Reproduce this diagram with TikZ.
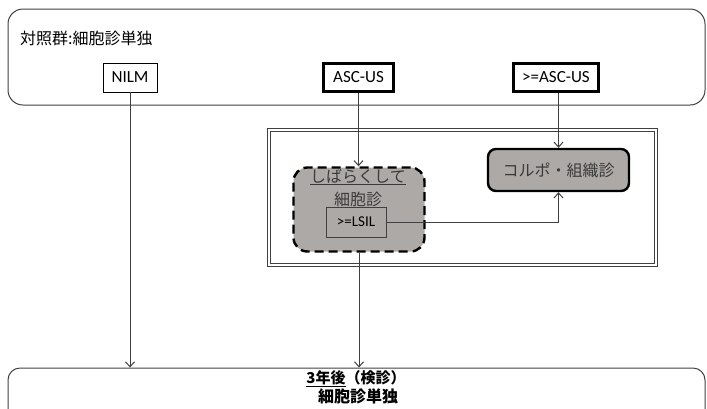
\documentclass[tikz,border=0pt]{standalone}
\usepackage{fontspec}
\setmainfont{Carlito}
\newfontfamily\jp{Noto Sans CJK JP}
\usetikzlibrary{arrows.meta}
\definecolor{boxgray}{HTML}{ADA9A6}
\definecolor{linegray}{HTML}{404040}
\definecolor{txtgray}{HTML}{3A3A3A}
\tikzset{
  lbl/.style={draw=black, fill=white, inner sep=0pt, font=\fontsize{17}{19}\selectfont},
  thinlbl/.style={lbl, line width=0.9pt},
  thicklbl/.style={lbl, line width=2.4pt},
  conn/.style={draw=linegray, line width=1pt, -{Straight Barb[length=5pt,width=9pt]}},
  jptext/.style={font=\jp\fontsize{16}{18}\selectfont, inner sep=0pt},
}
\begin{document}
\begin{tikzpicture}[x=1pt,y=-1pt]
\useasboundingbox (0,0) rectangle (707,408);
\clip (0,0) rectangle (707,408);
% top container
\node (top) [draw=linegray, line width=1pt, rounded corners=15pt, minimum width=697pt, minimum height=96pt, inner sep=0pt] at (356.5,57) {};
\node (title) [jptext, anchor=west] at (20,38) {対照群:細胞診単独};
\node (nilm) [thinlbl, minimum width=54pt, minimum height=29pt] at (130,77.5) {NILM};
\node (asc) [thicklbl, minimum width=70pt, minimum height=28pt] at (358.5,77.5) {ASC-US};
\node (gasc) [thicklbl, minimum width=85pt, minimum height=28pt] at (556,77.5) {>=ASC-US};
% inner double frame
\node (frame) [draw=linegray, double=white, double distance=2pt, line width=0.7pt, minimum width=387pt, minimum height=135pt, inner sep=0pt] at (462.5,197.5) {};
% dashed box
\node (dash) [draw=black, fill=boxgray, line width=2.4pt, dash pattern=on 9pt off 5pt, rounded corners=14pt, minimum width=131pt, minimum height=84pt, inner sep=0pt] at (359,209.5) {};
\node (t1) [jptext, text=txtgray] at (358,177) {\underline{しばらくして}};
\node (t2) [jptext, text=txtgray] at (358,199) {細胞診};
\node (lsil) [draw=linegray, fill=boxgray, line width=0.9pt, minimum width=60pt, minimum height=30pt, inner sep=0pt, font=\fontsize{15}{17}\selectfont] at (356,222) {>=LSIL};
% colpo box
\node (colpo) [draw=black, fill=boxgray, line width=2.4pt, rounded corners=8pt, minimum width=141pt, minimum height=42pt, inner sep=0pt, jptext, text=txtgray] at (558.5,170) {コルポ・組織診};
% bottom container
\node (bottom) [draw=linegray, line width=1pt, rounded corners=12pt, minimum width=697pt, minimum height=60pt, inner sep=0pt] at (356.5,398) {};
\node (b1) [font=\jp\bfseries\fontsize{15}{17}\selectfont, inner sep=0pt] at (356,379) {\underline{3年後}（検診）};
\node (b2) [font=\jp\bfseries\fontsize{16}{18}\selectfont, inner sep=0pt] at (358,396) {細胞診単独};
% connectors
\draw[conn] (nilm.south) -- (nilm.south |- bottom.north);
\draw[conn] (asc.south) -- (asc.south |- dash.north);
\draw[conn] (gasc.south -| colpo.north) -- (colpo.north);
\draw[conn] (lsil.east) -| (colpo.south);
\draw[conn] (dash.south) -- (dash.south |- bottom.north);
\end{tikzpicture}
\end{document}
